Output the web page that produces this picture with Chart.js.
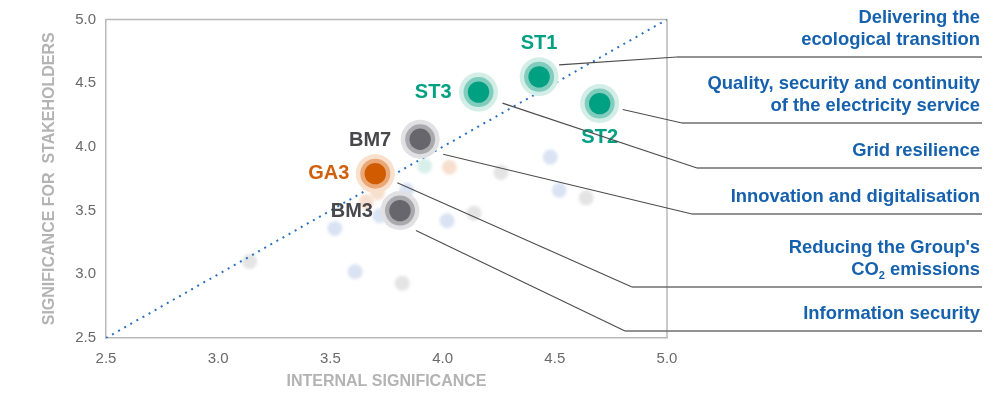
<!DOCTYPE html>
<html>
<head>
<meta charset="utf-8">
<script src="https://cdn.jsdelivr.net/npm/chart.js@4.4.1/dist/chart.umd.min.js"></script>
<style>
  html, body { margin: 0; padding: 0; background: #fff; }
  #wrap { width: 995px; height: 394px; }
</style>
</head>
<body>
<div id="wrap"><canvas id="matrix" width="995" height="394"></canvas></div>
<script>
// material issues highlighted in the chart
const issueCodes = ["ST1", "ST2", "ST3", "BM7", "GA3", "BM3"];
const issueGroups = ["ST", "ST", "ST", "BM", "GA", "BM"];
const internalScores = [4.43, 4.70, 4.16, 3.90, 3.70, 3.81];
const stakeholderScores = [4.55, 4.34, 4.43, 4.06, 3.79, 3.50];
const issueNames = [
  ["Delivering the", "ecological transition"],
  ["Quality, security and continuity", "of the electricity service"],
  ["Grid resilience"],
  ["Innovation and digitalisation"],
  ["Reducing the Group's", "CO|2| emissions"],
  ["Information security"]
];

// remaining (faded) issues
const otherGroups = ["BM", "SO", "BM", "SO", "SO", "SO", "GA", "GA", "ST", "GA", "BM", "SO", "SO", "BM", "BM", "SO"];
const otherInternal = [3.14, 3.61, 3.82, 3.52, 3.72, 3.84, 3.71, 3.66, 3.92, 4.03, 4.26, 4.48, 4.52, 4.64, 4.14, 4.02];
const otherStakeholder = [3.10, 3.02, 2.93, 3.36, 3.46, 3.66, 3.64, 3.57, 3.85, 3.84, 3.80, 3.92, 3.66, 3.60, 3.48, 3.42];

const axisTicks = [2.5, 3.0, 3.5, 4.0, 4.5, 5.0];

// colours per group: core, ring, halo, faded
const palette = {
  ST: { core: "#00a082", ring: "#80cdbd", halo: "#d3ede7", faded: "#d8f0ea", text: "#00a082" },
  BM: { core: "#67666c", ring: "#aaaaae", halo: "#e1e1e3", faded: "#e4e4e4", text: "#48484c" },
  GA: { core: "#d15b00", ring: "#eaa877", halo: "#f9e0cc", faded: "#f7dfcf", text: "#d0600e" },
  SO: { faded: "#dae3f3" }
};

// point label placement (offset from the point, in px)
const codeLabel = {
  ST1: { dx: 0, dy: -33, align: "center" },
  ST2: { dx: 0, dy: 34, align: "center" },
  ST3: { dx: -27, dy: 0, align: "right" },
  BM7: { dx: -29, dy: 1, align: "right" },
  GA3: { dx: -26, dy: 0, align: "right" },
  BM3: { dx: -27, dy: 1, align: "right" }
};

// leader lines: start offset from point, elbow x, horizontal line y
const leaders = {
  ST1: { sx: 20, sy: -12, elbowX: 677, lineY: 57 },
  ST2: { sx: 23, sy: 6, elbowX: 682, lineY: 123 },
  ST3: { sx: 24, sy: 11, elbowX: 697, lineY: 168 },
  BM7: { sx: 23, sy: 15, elbowX: 692, lineY: 214 },
  GA3: { sx: 22, sy: 9, elbowX: 632, lineY: 287 },
  BM3: { sx: 16, sy: 20, elbowX: 625, lineY: 331 }
};

const FONT = "'Liberation Sans', Arial, Helvetica, sans-serif";
const NAME_FONT = "bold 18.4px " + FONT;
const mainPoints = internalScores.map((x, i) => ({ x, y: stakeholderScores[i] }));
const otherPoints = otherInternal.map((x, i) => ({ x, y: otherStakeholder[i] }));

const blurPlugin = {
  id: "blurFaded",
  beforeDatasetDraw(chart, args) {
    if (chart.data.datasets[args.index].blur) {
      chart.ctx.save();
      chart.ctx.filter = "blur(1.6px)";
    }
  },
  afterDatasetDraw(chart, args) {
    if (chart.data.datasets[args.index].blur) chart.ctx.restore();
  }
};

const annotatePlugin = {
  id: "annotate",
  beforeDatasetsDraw(chart) {
    const { ctx, chartArea: a } = chart;
    ctx.save();
    ctx.strokeStyle = "#b9b9b9";
    ctx.lineWidth = 1.5;
    ctx.beginPath();
    ctx.moveTo(a.left, a.top);
    ctx.lineTo(a.right, a.top);
    ctx.lineTo(a.right, a.bottom);
    ctx.stroke();
    ctx.restore();
  },
  afterDatasetsDraw(chart) {
    const { ctx } = chart;
    const meta = chart.getDatasetMeta(chart.data.datasets.length - 1);
    ctx.save();
    issueCodes.forEach((code, i) => {
      const p = meta.data[i];
      const st = palette[issueGroups[i]];

      // code label
      const l = codeLabel[code];
      ctx.font = "bold 20px " + FONT;
      ctx.fillStyle = st.text;
      ctx.textAlign = l.align;
      ctx.textBaseline = "middle";
      ctx.fillText(code, p.x + l.dx, p.y + l.dy);

      // leader line
      const ld = leaders[code];
      ctx.strokeStyle = "#4d4d4d";
      ctx.lineWidth = 1.1;
      ctx.beginPath();
      ctx.moveTo(p.x + ld.sx, p.y + ld.sy);
      ctx.lineTo(ld.elbowX, ld.lineY);
      ctx.stroke();
      ctx.strokeStyle = "#6e6e6e";
      ctx.lineWidth = 1.4;
      ctx.beginPath();
      ctx.moveTo(ld.elbowX, ld.lineY);
      ctx.lineTo(982, ld.lineY);
      ctx.stroke();

      // issue name, right aligned above its line
      const lines = issueNames[i];
      ctx.fillStyle = "#1561ae";
      ctx.textAlign = "right";
      lines.forEach((txt, k) => {
        const y = ld.lineY - 17 - (lines.length - 1 - k) * 22;
        if (txt.includes("|")) {
          // subscript handling, e.g. CO|2| emissions
          const [pre, sub, post] = txt.split("|");
          ctx.font = NAME_FONT;
          const wPost = ctx.measureText(post).width;
          ctx.fillText(post, 980, y);
          ctx.font = "bold 11px " + FONT;
          const wSub = ctx.measureText(sub).width;
          ctx.fillText(sub, 980 - wPost, y + 6);
          ctx.font = NAME_FONT;
          ctx.fillText(pre, 980 - wPost - wSub, y);
        } else {
          ctx.font = NAME_FONT;
          ctx.fillText(txt, 980, y);
        }
      });
    });
    ctx.restore();
  }
};

new Chart(document.getElementById("matrix"), {
  type: "scatter",
  data: {
    datasets: [
      {
        label: "Other issues",
        data: otherPoints,
        blur: true,
        order: 40,
        pointRadius: 7.5,
        pointBorderWidth: 0,
        backgroundColor: otherGroups.map(g => palette[g].faded)
      },
      {
        label: "Bisector",
        data: [{ x: 2.5, y: 2.5 }, { x: 5, y: 5 }],
        showLine: true,
        order: 30,
        pointRadius: 0,
        borderColor: "#2a70c0",
        borderWidth: 2,
        borderDash: [2, 5],
        borderCapStyle: "butt"
      },
      {
        label: "Halo",
        data: mainPoints,
        order: 12,
        pointRadius: 19.5,
        pointBorderWidth: 0,
        backgroundColor: issueGroups.map(g => palette[g].halo)
      },
      {
        label: "Ring",
        data: mainPoints,
        order: 11,
        pointRadius: 15,
        pointBorderWidth: 0,
        backgroundColor: issueGroups.map(g => palette[g].ring)
      },
      {
        label: "Issues",
        data: mainPoints,
        order: 10,
        pointRadius: 10.7,
        pointBorderWidth: 0,
        backgroundColor: issueGroups.map(g => palette[g].core)
      }
    ]
  },
  options: {
    responsive: false,
    devicePixelRatio: 1,
    animation: false,
    layout: { padding: { left: 0, top: 19, right: 328, bottom: 0 } },
    plugins: { legend: { display: false }, tooltip: { enabled: false } },
    scales: {
      x: {
        type: "linear",
        min: 2.5,
        max: 5,
        afterBuildTicks: (s) => { s.ticks = axisTicks.map(v => ({ value: v })); },
        afterFit: (s) => { s.height = 56; },
        grid: { display: false, drawTicks: false },
        border: { color: "#b9b9b9", width: 1.5 },
        ticks: {
          padding: 12,
          color: "#6a6a6a",
          font: { family: FONT, size: 15 },
          callback: (v) => Number(v).toFixed(1)
        },
        title: {
          display: true,
          text: "INTERNAL SIGNIFICANCE",
          color: "#b3b3b3",
          font: { family: FONT, size: 16, weight: "bold" },
          padding: { top: 0, bottom: 2.4 }
        }
      },
      y: {
        type: "linear",
        min: 2.5,
        max: 5,
        afterBuildTicks: (s) => { s.ticks = axisTicks.map(v => ({ value: v })); },
        afterFit: (s) => { s.width = 106; },
        grid: { display: false, drawTicks: false },
        border: { color: "#b9b9b9", width: 1.5 },
        ticks: {
          padding: 10,
          color: "#6a6a6a",
          font: { family: FONT, size: 15 },
          callback: (v) => Number(v).toFixed(1)
        },
        title: {
          display: true,
          text: "SIGNIFICANCE FOR  STAKEHOLDERS",
          color: "#b3b3b3",
          font: { family: FONT, size: 16, weight: "bold" },
          padding: { top: 40.4, bottom: 0 }
        }
      }
    }
  },
  plugins: [blurPlugin, annotatePlugin]
});
</script>
</body>
</html>
